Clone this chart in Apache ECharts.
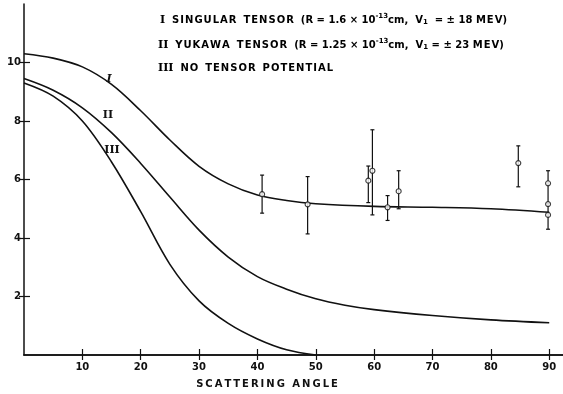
<!DOCTYPE html>
<html><head><meta charset="utf-8">
<script src="https://cdn.jsdelivr.net/npm/echarts@6/dist/echarts.min.js"></script>
<style>html,body{margin:0;padding:0;background:#fff}#c{width:563px;height:394px}</style>
</head><body><div id="c"></div>
<script>
// ---- data ----
var xTicks = [10, 20, 30, 40, 50, 60, 70, 80, 90];
var yTicks = [2, 4, 6, 8, 10];
var curveIx = [0, 5, 10, 15, 20, 25, 30, 35, 40, 45, 50, 60, 70, 80, 90];
var curveIy = [10.3, 10.15, 9.85, 9.25, 8.35, 7.35, 6.45, 5.85, 5.47, 5.28, 5.17, 5.08, 5.05, 5.0, 4.88];
var curveIIx = [0, 5, 10, 15, 20, 25, 30, 35, 40, 45, 50, 55, 60, 70, 80, 90];
var curveIIy = [9.45, 9.05, 8.45, 7.6, 6.55, 5.4, 4.27, 3.35, 2.68, 2.25, 1.92, 1.7, 1.55, 1.35, 1.2, 1.1];
var curveIIIx = [0, 5, 10, 15, 20, 25, 30, 35, 40, 45, 50];
var curveIIIy = [9.3, 8.85, 8.0, 6.6, 4.9, 3.1, 1.85, 1.08, 0.55, 0.18, 0.0];
var ptX = [40.8, 48.6, 59.0, 59.7, 62.3, 64.2, 84.7, 89.8, 89.8, 89.8];
var ptY = [5.50, 5.15, 5.96, 6.30, 5.05, 5.60, 6.56, 5.87, 5.16, 4.79];
var barX = [40.8, 48.6, 59.0, 59.7, 62.3, 64.2, 84.7, 89.8, 89.8];
var barLow = [4.85, 4.14, 5.21, 4.79, 4.6, 5.0, 5.75, 5.2, 4.30];
var barHigh = [6.15, 6.10, 6.46, 7.70, 5.45, 6.3, 7.15, 6.30, 5.2];
var xName = 'SCATTERING ANGLE';

function zip(a, b) { return a.map(function (v, i) { return [v, b[i]]; }); }
function spaced(s) { return s.split('').join('\u200A'); }

var chart = echarts.init(document.getElementById('c'));
var FONT = 'DejaVu Sans';
var axisLine = { show: true, lineStyle: { color: '#111', width: 1.5 } };
var tickStyle = { color: '#111', width: 1.2 };

var rich = {
  n: { fontFamily: 'DejaVu Serif', fontWeight: 'bold', fontSize: 11, color: '#111' },
  t: { fontFamily: FONT, fontWeight: 'bold', fontSize: 10, color: '#111' },
  sup: { fontFamily: FONT, fontWeight: 'bold', fontSize: 7, color: '#111', verticalAlign: 'top', padding: [0, 0, 7, 0] },
  sub: { fontFamily: FONT, fontWeight: 'bold', fontSize: 7, color: '#111', padding: [5, 0, 0, 0] }
};

chart.setOption({
  animation: false,
  backgroundColor: '#fff',
  grid: { left: 24, top: 4, width: 540, height: 351 },
  xAxis: [{
    type: 'value', min: 0, max: 92.36, position: 'bottom',
    axisLine: axisLine,
    axisTick: { show: true, inside: true, length: 6, lineStyle: tickStyle, customValues: xTicks },
    axisLabel: { customValues: xTicks, margin: 7, fontFamily: FONT, fontWeight: 'bold', fontSize: 10, color: '#111' },
    splitLine: { show: false }
  }, {
    type: 'value', min: 0, max: 92.36, position: 'top',
    axisLine: axisLine,
    axisTick: { show: true, inside: true, length: 5, lineStyle: tickStyle, customValues: xTicks },
    axisLabel: { show: false },
    splitLine: { show: false }
  }],
  yAxis: [{
    type: 'value', min: 0, max: 12, position: 'left',
    axisLine: axisLine,
    axisTick: { show: true, inside: true, length: 6, lineStyle: tickStyle, customValues: yTicks },
    axisLabel: { customValues: yTicks, margin: 3, fontFamily: FONT, fontWeight: 'bold', fontSize: 10, color: '#111' },
    splitLine: { show: false }
  }, {
    type: 'value', min: 0, max: 12, position: 'right',
    axisLine: { show: false },
    axisTick: { show: true, inside: true, length: 5, lineStyle: tickStyle, customValues: yTicks },
    axisLabel: { show: false },
    splitLine: { show: false }
  }],
  series: [
    { type: 'line', data: zip(curveIx, curveIy), smooth: 0.35, symbol: 'none', lineStyle: { color: '#111', width: 1.6 } },
    { type: 'line', data: zip(curveIIx, curveIIy), smooth: 0.35, symbol: 'none', lineStyle: { color: '#111', width: 1.6 } },
    { type: 'line', data: zip(curveIIIx, curveIIIy), smooth: 0.35, symbol: 'none', lineStyle: { color: '#111', width: 1.6 } },
    {
      type: 'custom',
      data: barX.map(function (x, i) { return [x, barLow[i], barHigh[i]]; }),
      renderItem: function (params, api) {
        var lo = api.coord([api.value(0), api.value(1)]);
        var hi = api.coord([api.value(0), api.value(2)]);
        var w = 2;
        var st = { stroke: '#111', lineWidth: 1.2 };
        return { type: 'group', children: [
          { type: 'line', shape: { x1: lo[0], y1: lo[1], x2: hi[0], y2: hi[1] }, style: st },
          { type: 'line', shape: { x1: lo[0] - w, y1: lo[1], x2: lo[0] + w, y2: lo[1] }, style: st },
          { type: 'line', shape: { x1: hi[0] - w, y1: hi[1], x2: hi[0] + w, y2: hi[1] }, style: st }
        ]};
      },
      z: 3
    },
    { type: 'scatter', data: zip(ptX, ptY), symbol: 'circle', symbolSize: 5,
      itemStyle: { color: '#fff', borderColor: '#111', borderWidth: 1.1 }, z: 4 }
  ],
  graphic: [
    { type: 'text', left: 160, top: 13, style: { text: '{n|I}{t|  ' + spaced('SINGULAR') + '  ' + spaced('TENSOR') + '  (R = 1.6 × 10}{sup|-13}{t|cm,  V}{sub|1}{t|  = ± 18 ' + spaced('MEV') + ')}', rich: rich } },
    { type: 'text', left: 158, top: 38, style: { text: '{n|II}{t|  ' + spaced('YUKAWA') + '  ' + spaced('TENSOR') + '  (R = 1.25 × 10}{sup|-13}{t|cm,  V}{sub|1}{t| = ± 23 ' + spaced('MEV') + ')}', rich: rich } },
    { type: 'text', left: 158, top: 63, style: { text: '{n|III}{t|  ' + spaced('NO') + '  ' + spaced('TENSOR') + '  ' + spaced('POTENTIAL') + '}', rich: rich } },
    { type: 'text', x: 109, y: 79, style: { text: 'I', font: 'italic bold 11px "DejaVu Serif"', fill: '#111', align: 'center', verticalAlign: 'middle' } },
    { type: 'text', x: 108, y: 115, style: { text: 'II', font: 'bold 11px "DejaVu Serif"', fill: '#111', align: 'center', verticalAlign: 'middle' } },
    { type: 'text', x: 112, y: 150, style: { text: 'III', font: 'bold 11px "DejaVu Serif"', fill: '#111', align: 'center', verticalAlign: 'middle' } },
    { type: 'text', x: 267, y: 384, style: { text: xName.split('').join('\u2009'), font: 'bold 10px "DejaVu Sans"', fill: '#111', align: 'center', verticalAlign: 'middle' } }
  ]
});
</script>
</body></html>
